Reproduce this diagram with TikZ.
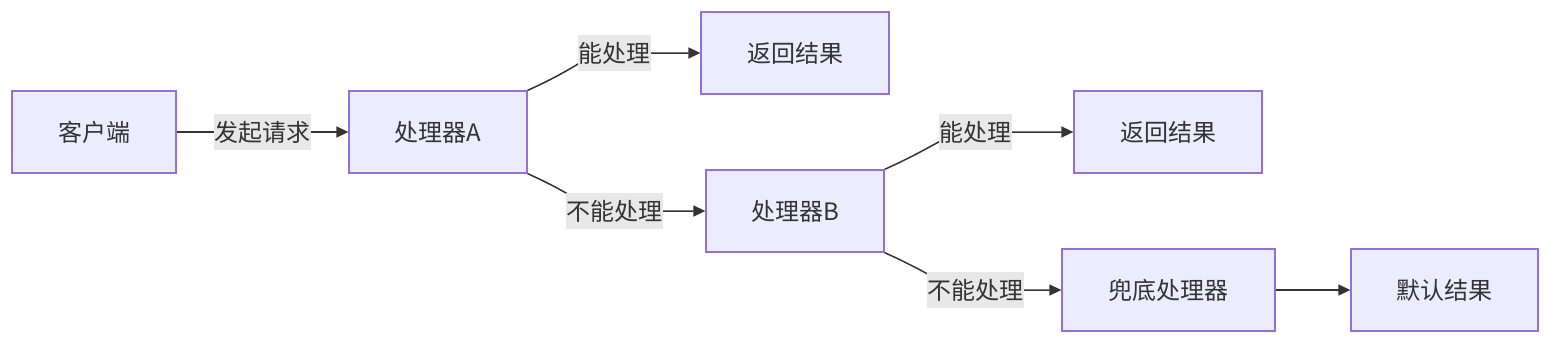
\documentclass[tikz,border=0pt]{standalone}
\usepackage{fontspec}
\setmainfont{Noto Sans CJK SC}
\usetikzlibrary{arrows.meta,calc}
\definecolor{nodefill}{HTML}{ECECFF}
\definecolor{nodedraw}{HTML}{9370DB}
\definecolor{txt}{HTML}{333333}
\definecolor{lblbg}{HTML}{E8E8E8}
\begin{document}
\begin{tikzpicture}[x=1pt,y=-1pt,
 box/.style={draw=nodedraw,fill=nodefill,line width=1.3pt,text=txt,font=\fontsize{24}{28}\selectfont,inner sep=0pt,minimum height=82pt},
 lbl/.style={fill=lblbg,text=txt,font=\fontsize{24}{28}\selectfont,inner xsep=0.5pt,inner ysep=0pt,minimum height=36pt},
 edge/.style={draw=txt,line width=1.5pt,-{Triangle[length=12pt,width=11pt]}}]
\useasboundingbox (0,0) rectangle (1568,348);
\node[box,minimum width=164pt] (C) at (94,132) {客户端};
\node[box,minimum width=178pt] (A) at (438,132) {处理器A};
\node[box,minimum width=188pt] (R1) at (795,53) {返回结果};
\node[box,minimum width=178pt] (B) at (795,211) {处理器B};
\node[box,minimum width=188pt] (R2) at (1168,132) {返回结果};
\node[box,minimum width=213pt] (F) at (1168.5,290) {兜底处理器};
\node[box,minimum width=187pt] (D) at (1444.5,290) {默认结果};
\coordinate (c0) at (262.5,132);
\coordinate (c1) at (614.5,53);
\coordinate (c2) at (614.5,211);
\coordinate (c3) at (975.5,132);
\coordinate (c4) at (975.5,290);
\draw[edge] (C) -- (A);
\draw[edge] (A.north east) .. controls +(60,-27) and +(-30,0) .. (c1) -- (R1.west);
\draw[edge] (A.south east) .. controls +(60,27) and +(-30,0) .. (c2) -- (B.west);
\draw[edge] (B.north east) .. controls +(60,-27) and +(-30,0) .. (c3) -- (R2.west);
\draw[edge] (B.south east) .. controls +(60,27) and +(-30,0) .. (c4) -- (F.west);
\draw[edge] (F) -- (D);
\node[lbl] (l0) at (c0) {发起请求};
\node[lbl] (l1) at (c1) {能处理};
\node[lbl] (l2) at (c2) {不能处理};
\node[lbl] (l3) at (c3) {能处理};
\node[lbl] (l4) at (c4) {不能处理};
\end{tikzpicture}
\end{document}
